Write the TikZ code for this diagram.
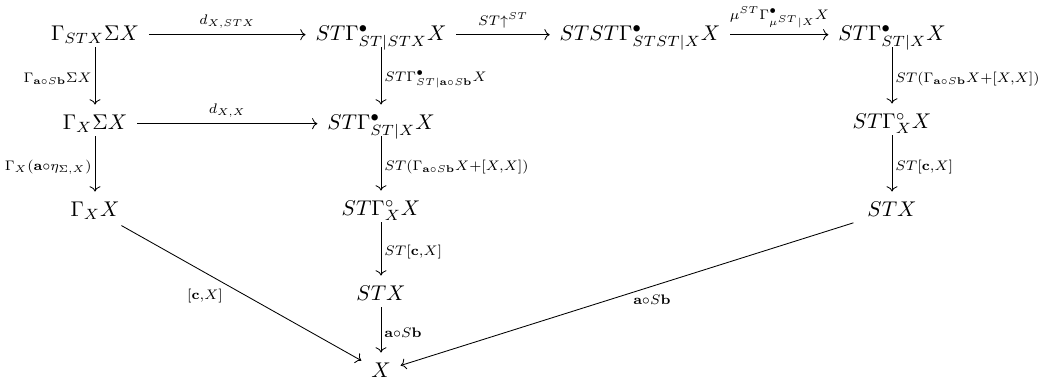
\documentclass[tikz,border=0pt]{standalone}
\usepackage{amsmath,amssymb}
\usetikzlibrary{cd}
\newcommand{\mylab}[1]{$\scriptstyle #1$}
\begin{document}
\begin{tikzpicture}[x=0.0165cm,y=-0.0165cm,
  obj/.style={anchor=base,inner xsep=4.5pt,inner ysep=1.3pt,text height=7pt,text depth=2pt},
  arr/.style={->,>={cm to},line width=0.4pt},
  vert/.style={arr,shorten >=3pt},
  lbl/.style={inner sep=1.5pt,scale=0.93},
  hlbl/.style={above,inner sep=3pt,scale=0.93}]
\useasboundingbox (0,0) rectangle (1055,382);
% nodes
\node[obj] (A)  at (95,40)   {$\Gamma_{STX}\Sigma X$};
\node[obj] (B)  at (381,40)  {$ST\Gamma^{\bullet}_{ST|STX}X$};
\node[obj] (C)  at (640,40)  {$STST\Gamma^{\bullet}_{STST|X}X$};
\node[obj] (D)  at (892,40)  {$ST\Gamma^{\bullet}_{ST|X}X$};
\node[obj] (A2) at (95,129)  {$\Gamma_X\Sigma X$};
\node[obj] (B2) at (381,129) {$ST\Gamma^{\bullet}_{ST|X}X$};
\node[obj] (D2) at (892,128) {$ST\Gamma^{\circ}_{X}X$};
\node[obj] (A3) at (95,216)  {$\Gamma_X X$};
\node[obj] (B3) at (381,215) {$ST\Gamma^{\circ}_{X}X$};
\node[obj] (D3) at (892,216) {$STX$};
\node[obj] (B4) at (381,300) {$STX$};
\node[obj] (X)  at (381,377) {$X$};
% horizontal arrows
\draw[arr] (A) -- node[hlbl]{\mylab{d_{X,STX}}} (B);
\draw[arr] (B) -- node[hlbl]{\mylab{ST{\uparrow}^{ST}}} (C);
\draw[arr] (C) -- node[hlbl]{\mylab{\mu^{ST}\Gamma^{\bullet}_{\mu^{ST}|X}X}} (D);
\draw[arr] (A2) -- node[hlbl]{\mylab{d_{X,X}}} (B2);
% vertical arrows
\draw[vert] (A) -- node[left,lbl]{\mylab{\Gamma_{\mathbf{a}\circ S\mathbf{b}}\Sigma X}} (A2);
\draw[vert] (A2) -- node[left,lbl]{\mylab{\Gamma_X(\mathbf{a}\circ\eta_{\Sigma,X})}} (A3);
\draw[vert] (B) -- node[right,lbl]{\mylab{ST\Gamma^{\bullet}_{ST|\mathbf{a}\circ S\mathbf{b}}X}} (B2);
\draw[vert] (B2) -- node[right,lbl]{\mylab{ST(\Gamma_{\mathbf{a}\circ S\mathbf{b}}X+[X,X])}} (B3);
\draw[vert] (B3) -- node[right,lbl]{\mylab{ST[\mathbf{c},X]}} (B4);
\draw[vert] (B4) -- node[right,lbl]{\mylab{\mathbf{a}\circ S\mathbf{b}}} (X);
\draw[vert] (D) -- node[right,lbl]{\mylab{ST(\Gamma_{\mathbf{a}\circ S\mathbf{b}}X+[X,X])}} (D2);
\draw[vert] (D2) -- node[right,lbl]{\mylab{ST[\mathbf{c},X]}} (D3);
% diagonals
\draw[arr,shorten <=2pt] (A3) -- node[below left,lbl,pos=0.45,inner sep=2pt]{\mylab{[\mathbf{c},X]}} (X);
\draw[arr,shorten <=2pt] (D3) -- node[below,lbl,pos=0.45,inner sep=4pt]{\mylab{\mathbf{a}\circ S\mathbf{b}}} (X);
\end{tikzpicture}
\end{document}
